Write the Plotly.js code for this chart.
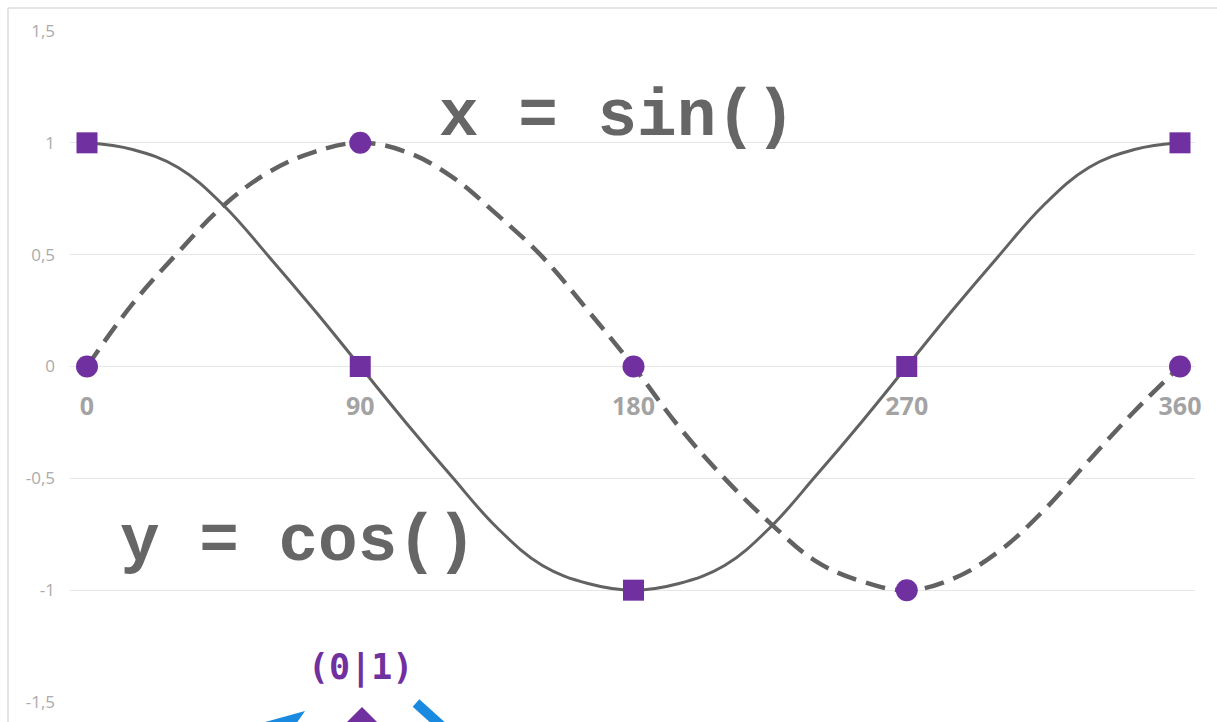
<!DOCTYPE html>
<html>
<head>
<meta charset="utf-8">
<script src="https://cdn.plot.ly/plotly-3.0.1.min.js"></script>
<style>html,body{margin:0;padding:0;background:#fff;}#chart{width:1217px;height:722px;}</style>
</head>
<body>
<div id="chart"></div>
<script>
// ---- data ----
// key points (markers)
var angles = [0, 90, 180, 270, 360];
var cosValues = [1, 0, -1, 0, 1];
var sinValues = [0, 1, 0, -1, 0];
// smoothed curves, values every 15 degrees
var curveAngles = [0, 15, 30, 45, 60, 75, 90, 105, 120, 135, 150, 165, 180,
                   195, 210, 225, 240, 255, 270, 285, 300, 315, 330, 345, 360];
var cosCurve = [1, 0.97, 0.89, 0.72, 0.49, 0.25, 0, -0.25, -0.49, -0.72, -0.89, -0.97, -1,
                -0.97, -0.89, -0.72, -0.49, -0.25, 0, 0.25, 0.49, 0.72, 0.89, 0.97, 1];
var sinCurve = [0, 0.28, 0.51, 0.72, 0.87, 0.96, 1, 0.96, 0.85, 0.68, 0.49, 0.25, 0,
                -0.27, -0.5, -0.7, -0.87, -0.96, -1, -0.95, -0.83, -0.645, -0.42, -0.2, 0];
var xTickVals = [0, 90, 180, 270, 360];
var xTickText = ['0', '90', '180', '270', '360'];
var yTickVals = [1.5, 1, 0.5, 0, -0.5, -1, -1.5];
var yTickText = ['1,5', '1', '0,5', '0', '-0,5', '-1', '-1,5'];
var labelSin = 'x = sin()';
var labelCos = 'y = cos()';
var labelPoint = '(0|1)';

// ---- layout helpers (pixel -> paper) ----
var W = 1217, H = 722, L = 70, R = 22, T = 31, B = 20;
var PW = W - L - R, PH = H - T - B;
function px(x) { return (x - L) / PW; }
function py(y) { return (H - B - y) / PH; }
function path(pts) {
  return 'M ' + pts.map(function (p) { return px(p[0]) + ',' + py(p[1]); }).join(' L ') + ' Z';
}

var purple = '#7030a0';
var lineGray = '#626262';
var blue = '#1a8ae0';

var traces = [
  { x: curveAngles, y: cosCurve, type: 'scatter', mode: 'lines',
    line: { shape: 'spline', smoothing: 1.1, color: lineGray, width: 3 },
    cliponaxis: false, hoverinfo: 'skip' },
  { x: curveAngles, y: sinCurve, type: 'scatter', mode: 'lines',
    line: { shape: 'spline', smoothing: 1.1, color: lineGray, width: 4.5, dash: '20px,10px' },
    cliponaxis: false, hoverinfo: 'skip' },
  { x: angles, y: cosValues, type: 'scatter', mode: 'markers',
    marker: { symbol: 'square', size: 21, color: purple },
    cliponaxis: false, hoverinfo: 'skip' },
  { x: angles, y: sinValues, type: 'scatter', mode: 'markers',
    marker: { symbol: 'circle', size: 22, color: purple },
    cliponaxis: false, hoverinfo: 'skip' }
];

var layout = {
  width: W, height: H,
  margin: { l: L, r: R, t: T, b: B, pad: 0 },
  paper_bgcolor: '#ffffff', plot_bgcolor: '#ffffff',
  showlegend: false,
  xaxis: {
    range: [-5.6, 364.94], anchor: 'free', position: 0.5, side: 'bottom',
    showgrid: false, zeroline: false, showline: false, ticks: '',
    tickmode: 'array', tickvals: xTickVals, ticktext: xTickText,
    tickfont: { family: 'Open Sans', size: 25, color: '#a3a3a3', weight: 'bold' },
    ticklabelstandoff: 22, fixedrange: true
  },
  yaxis: {
    range: [-1.5, 1.5],
    showgrid: true, gridcolor: '#e6e6e6', gridwidth: 1,
    zeroline: false, showline: false, ticks: '',
    tickmode: 'array', tickvals: yTickVals, ticktext: yTickText,
    tickfont: { family: 'Open Sans', size: 17, color: '#ababab' },
    ticklabelstandoff: 14, fixedrange: true
  },
  annotations: [
    { x: 174.5, y: 1.114, xref: 'x', yref: 'y', text: labelSin, showarrow: false,
      font: { family: 'Liberation Mono', size: 66, color: '#666666', weight: 'bold' } },
    { x: 69.5, y: -0.787, xref: 'x', yref: 'y', text: labelCos, showarrow: false,
      font: { family: 'Liberation Mono', size: 66, color: '#666666', weight: 'bold' } },
    { x: 90, y: -1.347, xref: 'x', yref: 'y', text: labelPoint, showarrow: false,
      font: { family: 'DejaVu Sans Mono', size: 35, color: purple, weight: 'bold' } }
  ],
  shapes: [
    // chart border (top & left)
    { type: 'line', xref: 'paper', yref: 'paper', x0: px(8), y0: py(8), x1: px(1217), y1: py(8),
      line: { color: '#dcdcdc', width: 1.5 } },
    { type: 'line', xref: 'paper', yref: 'paper', x0: px(8), y0: py(8), x1: px(8), y1: py(722),
      line: { color: '#dcdcdc', width: 1.5 } },
    // cut-off decorations at the bottom
    { type: 'path', xref: 'paper', yref: 'paper', path: path([[258, 724], [305, 711], [296, 724]]),
      fillcolor: blue, line: { width: 0 } },
    { type: 'line', xref: 'paper', yref: 'paper', x0: px(416), y0: py(703), x1: px(446), y1: py(730),
      line: { color: blue, width: 10 } },
    { type: 'path', xref: 'paper', yref: 'paper', path: path([[362, 707], [386, 731], [362, 755], [338, 731]]),
      fillcolor: purple, line: { width: 0 } }
  ]
};

Plotly.newPlot('chart', traces, layout, { displayModeBar: false, staticPlot: true });
</script>
</body>
</html>
